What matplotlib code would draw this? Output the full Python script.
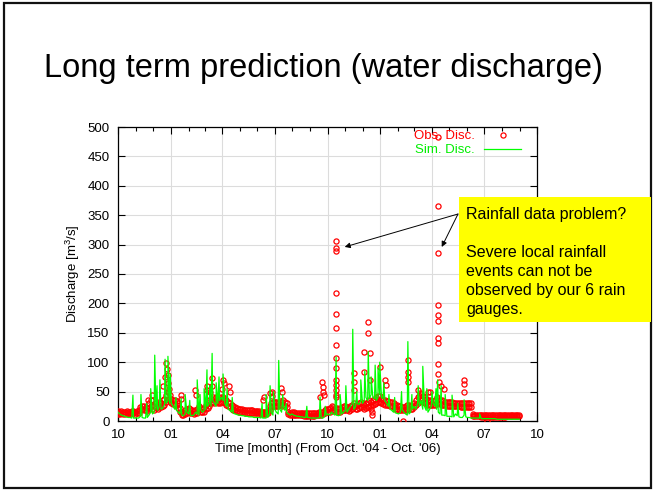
import datetime as dt
import numpy as np
import matplotlib
matplotlib.use('Agg')
import matplotlib.pyplot as plt
import matplotlib.dates as mdates
from matplotlib.patches import Rectangle

plt.rcParams['font.family'] = ['Liberation Sans', 'DejaVu Sans']
plt.rcParams['mathtext.default'] = 'regular'

start = dt.date(2004, 10, 1)
end = dt.date(2006, 10, 1)
step = 3  # days between base samples

# observed discharge [m3/s], one value every 3 days from 1 Oct 2004
# (upper and lower edge of the daily band)
obs_hi = [
    17, 16, 17, 16, 16, 17, 16, 16, 17, 17, 16,        # Oct 04
    17, 18, 24, 26, 25, 24, 22, 30, 36, 28,            # Nov
    26, 30, 28, 32, 30, 35, 38, 45, 50, 45,            # Dec
    38, 36, 35, 34, 30, 22, 15, 14, 18, 20,            # Jan 05
    22, 20, 18, 17, 18, 20, 25, 22, 20, 22,            # Feb
    28, 30, 35, 38, 40, 38, 40, 38, 39, 40,            # Mar
    40, 38, 36, 33, 30, 27, 25, 23, 22, 21,            # Apr
    20, 20, 19, 19, 18, 18, 18, 18, 17, 17,            # May
    17, 17, 16, 16, 16, 16, 17, 25, 30, 32,            # Jun
    32, 33, 31, 34, 32, 35, 33, 30, 16, 14,            # Jul
    15, 15, 14, 14, 14, 14, 14, 13, 13, 13, 13,        # Aug
    13, 13, 13, 14, 14, 15, 15, 16, 18, 20,            # Sep
    20, 22, 25, 24, 22, 22, 20, 22, 24, 25,            # Oct 05
    25, 24, 22, 25, 28, 30, 28, 27, 30, 32,            # Nov
    30, 28, 30, 32, 35, 33, 35, 38, 40, 42, 42,        # Dec
    38, 36, 35, 34, 34, 33, 32, 30, 28, 27,            # Jan 06
    26, 25, 24, 24, 25, 28, 27, 26, 28,                # Feb
    30, 35, 40, 42, 44, 42, 40, 38, 36, 35, 34,        # Mar
    34, 36, 40, 38, 36, 35, 34, 33, 33, 32,            # Apr
    32, 32, 31, 31, 31, 30, 30, 30, 30, 30,            # May
    30, 30, 30, 12, 11, 11, 11, 11, 10, 10,            # Jun
    10, 10, 10, 10, 10, 10, 10, 10, 10, 10,            # Jul
    10, 10, 10, 11, 11, 11, 11, 11, 11, 11, 11,        # Aug
]
obs_lo = [
    12, 12, 13, 12, 12, 13, 12, 12, 13, 13, 12,        # Oct 04
    13, 14, 18, 20, 19, 18, 17, 22, 26, 20,            # Nov
    19, 22, 21, 24, 23, 26, 28, 32, 36, 34,            # Dec
    30, 29, 28, 27, 22, 15, 10, 10, 12, 14,            # Jan 05
    15, 14, 13, 12, 13, 14, 18, 16, 15, 16,            # Feb
    20, 22, 26, 30, 32, 31, 32, 30, 31, 32,            # Mar
    32, 30, 28, 26, 23, 21, 19, 18, 17, 16,            # Apr
    15, 15, 15, 14, 14, 14, 14, 13, 13, 13,            # May
    13, 13, 12, 12, 12, 12, 13, 19, 24, 25,            # Jun
    25, 26, 25, 27, 26, 28, 26, 24, 12, 10,            # Jul
    10, 10, 10, 10, 10, 10, 10, 9, 9, 9, 9,            # Aug
    9, 9, 9, 10, 10, 10, 11, 12, 13, 15,               # Sep
    15, 16, 18, 18, 17, 16, 15, 16, 18, 19,            # Oct 05
    19, 18, 17, 19, 21, 23, 21, 20, 22, 24,            # Nov
    23, 21, 22, 24, 26, 25, 27, 29, 31, 32, 33,        # Dec
    30, 29, 28, 27, 27, 26, 25, 23, 21, 20,            # Jan 06
    19, 19, 18, 18, 19, 21, 20, 20, 21,                # Feb
    23, 27, 31, 33, 35, 33, 31, 30, 28, 28, 27,        # Mar
    27, 28, 31, 30, 29, 28, 27, 27, 26, 26,            # Apr
    26, 26, 25, 25, 25, 25, 24, 24, 24, 24,            # May
    24, 24, 24, 8, 8, 8, 8, 8, 7, 7,                   # Jun
    7, 7, 7, 7, 7, 7, 7, 7, 7, 7,                      # Jul
    7, 7, 7, 8, 8, 8, 8, 8, 8, 8, 8,                   # Aug
]

# observed peaks: day after 1 Oct 2004, discharge
obs_peak_day = [52, 59, 78, 82, 84, 85, 87, 87, 89, 110, 110, 134, 136,
                155, 155, 164, 164, 160, 183, 185, 181, 193, 195,
                253, 255, 265, 268, 268, 284, 286,
                352, 355, 357, 357, 359,
                380, 380, 380, 380, 380, 380, 380, 380, 380, 380, 380, 380, 380, 380,
                411, 411, 411, 428, 428, 436, 436, 439, 439, 443, 442, 440,
                456, 465, 467, 497, 505, 505, 505, 505, 523, 526, 544,
                557, 557, 557, 557, 557, 557, 557, 557, 557, 557, 560, 562, 568, 540,
                603, 603, 603, 643]
obs_peak_val = [36, 45, 60, 75, 98, 88, 78, 65, 55, 44, 38, 53, 45,
                60, 52, 73, 60, 50, 70, 65, 55, 60, 50,
                36, 40, 48, 50, 42, 56, 50,
                41, 66, 57, 50, 44,
                306, 294, 289, 218, 182, 158, 129, 107, 90, 70, 61, 53, 44, 40,
                82, 67, 53, 118, 84, 169, 149, 70, 115, 10, 15, 20,
                92, 70, 62, 0, 104, 84, 75, 66, 52, 48, 50,
                483, 366, 286, 197, 180, 170, 141, 133, 97, 80, 66, 60, 55, 49,
                70, 63, 50, 0]

# simulated discharge [m3/s], same 3-day grid
sim_base = [
    15, 12, 10, 9, 8, 7, 6, 6, 5, 5, 5,                # Oct 04
    5, 5, 8, 6, 5, 5, 6, 10, 15, 12,                   # Nov
    15, 20, 18, 25, 20, 22, 28, 30, 35, 30,            # Dec
    30, 25, 20, 18, 15, 12, 10, 9, 12, 15,             # Jan 05
    12, 10, 9, 10, 15, 12, 10, 20, 15, 18,             # Feb
    20, 25, 30, 25, 35, 30, 25, 30, 35, 40,            # Mar
    35, 30, 25, 20, 18, 15, 13, 12, 11, 10,            # Apr
    10, 9, 9, 8, 8, 7, 7, 7, 6, 6,                     # May
    6, 6, 5, 5, 5, 5, 6, 12, 15, 10,                   # Jun
    20, 15, 12, 20, 15, 25, 18, 14, 12, 10,            # Jul
    12, 10, 9, 8, 8, 7, 7, 6, 6, 6, 6,                 # Aug
    5, 5, 5, 5, 5, 6, 5, 5, 8, 10,                     # Sep
    12, 10, 15, 12, 10, 10, 9, 10, 12, 15,             # Oct 05
    18, 15, 20, 25, 30, 20, 25, 30, 28, 35,            # Nov
    30, 35, 40, 35, 38, 45, 40, 38, 35, 40, 45,        # Dec
    40, 38, 35, 30, 25, 20, 18, 15, 14, 13,            # Jan 06
    12, 15, 20, 15, 12, 10, 12, 15, 20,                # Feb
    25, 20, 30, 25, 35, 20, 25, 18, 15, 20, 25,        # Mar
    30, 25, 20, 15, 12, 10, 10, 9, 8, 8,               # Apr
    8, 7, 7, 12, 9, 7, 6, 6, 10, 7,                    # May
    6, 6, 5, 5, 5, 5, 5, 5, 4, 4,                      # Jun
    4, 4, 4, 4, 4, 4, 4, 3, 3, 3,                      # Jul
    3, 3, 3, 3, 3, 3, 3, 3, 3, 3, 3,                   # Aug
]

sim_peak_day = [26, 40, 50, 57, 64, 68, 73, 82, 87, 91, 101, 110, 117, 125,
                138, 143, 150, 155, 160, 164, 171, 176, 183, 190, 199,
                251, 258, 265, 271, 280, 287, 293, 329,
                352, 361, 380, 387, 397, 409, 416, 423, 430, 436, 441, 448,
                453, 456, 463, 472, 482, 494, 505, 512, 523, 531, 538,
                547, 554, 557, 563, 570, 582, 592, 603, 630]
sim_peak_val = [44, 45, 30, 55, 112, 60, 70, 105, 110, 80, 40, 38, 45, 35,
                70, 45, 55, 87, 60, 115, 65, 75, 80, 55, 40,
                30, 45, 60, 50, 103, 45, 30, 25,
                41, 25, 109, 45, 60, 156, 50, 70, 85, 118, 75, 95,
                90, 100, 65, 45, 40, 50, 135, 45, 60, 93, 55,
                50, 55, 70, 60, 45, 44, 30, 36, 12]

grid_days = np.arange(len(obs_hi)) * step
obs_days = np.concatenate([grid_days, grid_days, obs_peak_day])
obs_vals = np.concatenate([obs_hi, obs_lo, obs_peak_val])
sim_days = np.concatenate([np.arange(len(sim_base)) * step, sim_peak_day])
sim_vals = np.concatenate([sim_base, sim_peak_val])
order = np.argsort(sim_days, kind='stable')
sim_days, sim_vals = sim_days[order], sim_vals[order]

obs_t = [start + dt.timedelta(days=int(d)) for d in obs_days]
sim_t = [start + dt.timedelta(days=int(d)) for d in sim_days]

fig = plt.figure(figsize=(6.53, 4.90), dpi=100)
ax = fig.add_axes([118 / 653, 69 / 490, 419 / 653, 294 / 490])

ax.plot(obs_t, obs_vals, ls='none', marker='o', ms=3.7, mfc='none',
        mec='#ff0000', mew=0.9, label='Obs. Disc.', zorder=3)
ax.plot(sim_t, sim_vals, color='#00ff00', lw=0.9, label='Sim. Disc.', zorder=4)

ax.set_xlim(start, end)
ax.set_ylim(0, 500)
ax.set_yticks(np.arange(0, 501, 50))
ax.xaxis.set_major_locator(mdates.MonthLocator(bymonth=[1, 4, 7, 10]))
ax.xaxis.set_minor_locator(mdates.MonthLocator())
ax.xaxis.set_major_formatter(mdates.DateFormatter('%m'))
ax.tick_params(which='both', direction='in', top=True, right=True,
               labelsize=9.5, colors='black')
ax.tick_params(which='major', length=5, width=0.8, pad=6)
ax.tick_params(which='minor', length=3, width=0.8)
ax.grid(True, which='major', color='#dcdcdc', lw=0.8)
ax.set_axisbelow(True)
for s in ax.spines.values():
    s.set_linewidth(0.9)

ax.set_xlabel("Time [month] (From Oct. '04 - Oct. '06)", fontsize=9.5, labelpad=1)
ax.set_ylabel('Discharge [m$^3$/s]', fontsize=9.5, labelpad=4)

leg = ax.legend(loc='upper right', bbox_to_anchor=(0.962, 0.99), frameon=False,
                markerfirst=False, numpoints=1, handlelength=2.8,
                handletextpad=0.7, labelspacing=0.15, fontsize=9.5,
                borderaxespad=0, borderpad=0)
for txt, col in zip(leg.get_texts(), ['#ff0000', '#00ee00']):
    txt.set_color(col)

# arrows from the note to the two outliers
note_xy = (458 / 653, 1 - 214 / 490)
for day, val in [(395, 296), (564, 296)]:
    ax.annotate('', xy=(start + dt.timedelta(days=day), val), xycoords='data',
                xytext=note_xy, textcoords='figure fraction',
                arrowprops=dict(arrowstyle='-|>', color='black', lw=0.7,
                                mutation_scale=8, shrinkA=0, shrinkB=0),
                zorder=5)

fig.patches.append(Rectangle((459 / 653, 1 - 322 / 490), 192 / 653, 125 / 490,
                             transform=fig.transFigure, facecolor='#ffff00',
                             edgecolor='none', zorder=2))
fig.text(466 / 653, 1 - 207 / 490,
         'Rainfall data problem?\n\nSevere local rainfall\nevents can not be\n'
         'observed by our 6 rain\ngauges.',
         ha='left', va='top', fontsize=11.5, linespacing=1.33, zorder=3)

fig.text(323 / 653, 1 - 68 / 490, 'Long term prediction (water discharge)',
         ha='center', va='center', fontsize=23.5)

# slide frame
fig.patches.append(Rectangle((4 / 653, 2 / 490), 647 / 653, 485 / 490,
                             transform=fig.transFigure, facecolor='none',
                             edgecolor='#111111', lw=1.6, zorder=1))

plt.savefig('out.png', dpi=100)
